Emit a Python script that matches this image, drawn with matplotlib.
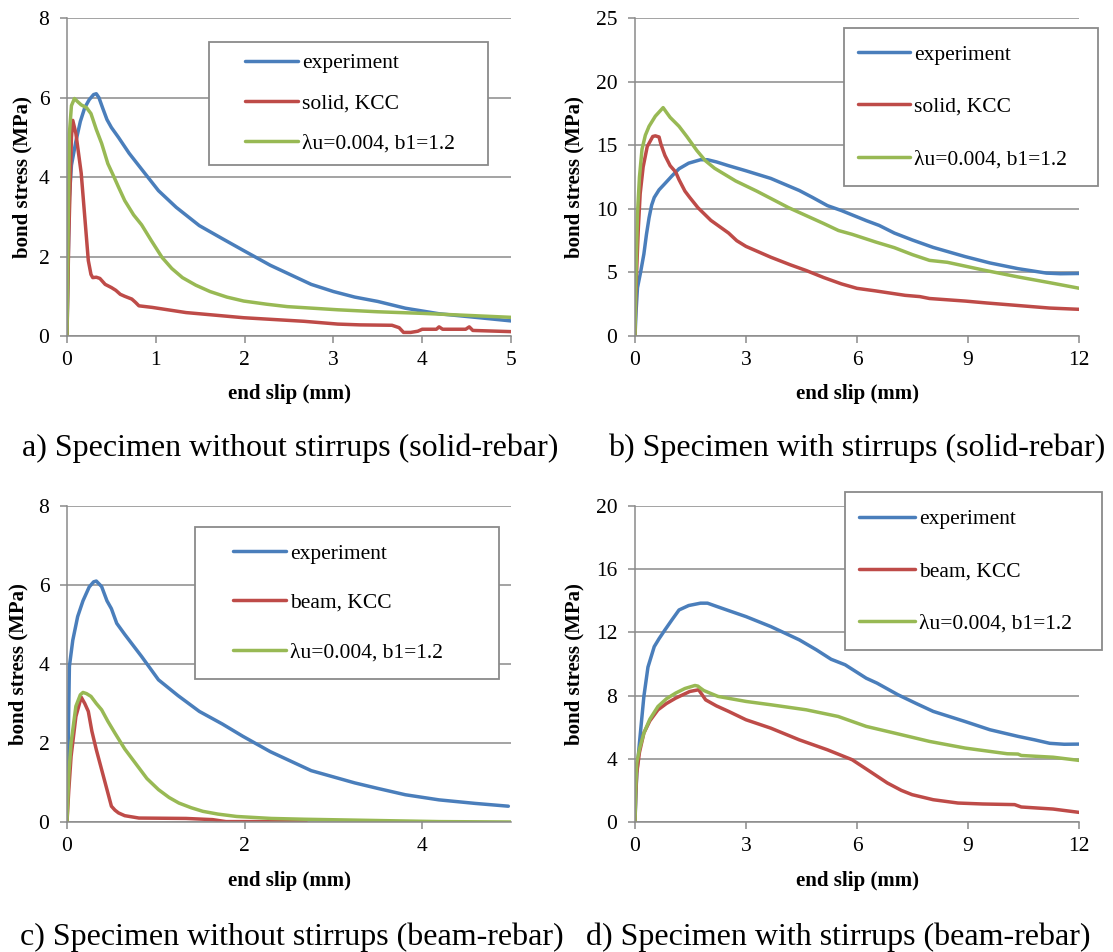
import matplotlib
matplotlib.use("Agg")
import matplotlib.pyplot as plt
from matplotlib.lines import Line2D
from matplotlib.legend_handler import HandlerLine2D

SERIF = ['Liberation Serif', 'DejaVu Serif']
plt.rcParams['font.family'] = SERIF

# ---------------- data: end slip (mm) vs bond stress (MPa) ----------------
# a) without stirrups, solid-rebar
a_exp_x = [0, 0.01, 0.027, 0.05, 0.1, 0.15, 0.2, 0.25, 0.3, 0.33, 0.36, 0.4, 0.45, 0.5, 0.58, 0.7, 0.84,
           1.03, 1.23, 1.49, 1.75, 1.99, 2.29, 2.75, 3.0, 3.24, 3.5, 3.81, 4.19, 4.6, 5.0]
a_exp_y = [0, 1.5, 3.5, 4.3, 4.9, 5.4, 5.75, 5.95, 6.08, 6.1, 6.0, 5.75, 5.45, 5.25, 5.0, 4.6, 4.2,
           3.66, 3.24, 2.78, 2.45, 2.15, 1.78, 1.3, 1.12, 0.98, 0.87, 0.70, 0.56, 0.47, 0.38]
a_kcc_x = [0, 0.02, 0.05, 0.065, 0.1, 0.16, 0.2, 0.24, 0.27, 0.29, 0.33, 0.37, 0.43, 0.5, 0.55, 0.6, 0.65,
           0.73, 0.77, 0.81, 0.96, 1.34, 1.99, 2.67, 3.05, 3.3, 3.66, 3.74, 3.79, 3.87, 3.95, 4.0, 4.16,
           4.19, 4.23, 4.49, 4.53, 4.57, 5.0]
a_kcc_y = [0, 2.5, 5.0, 5.43, 5.1, 4.1, 3.0, 1.9, 1.55, 1.47, 1.48, 1.45, 1.3, 1.22, 1.15, 1.05, 1.0,
           0.93, 0.85, 0.76, 0.72, 0.59, 0.46, 0.37, 0.30, 0.28, 0.27, 0.21, 0.09, 0.09, 0.12, 0.17, 0.17,
           0.23, 0.17, 0.17, 0.23, 0.14, 0.11]
a_mod_x = [0, 0.015, 0.027, 0.05, 0.084, 0.12, 0.16, 0.22, 0.27, 0.33, 0.39, 0.46, 0.52, 0.58, 0.65, 0.75,
           0.84, 0.95, 1.07, 1.18, 1.3, 1.45, 1.61, 1.8, 1.99, 2.25, 2.48, 3.05, 3.5, 4.0, 4.5, 5.0]
a_mod_y = [0, 3.0, 5.1, 5.8, 5.98, 5.9, 5.82, 5.75, 5.6, 5.2, 4.85, 4.34, 4.05, 3.75, 3.41, 3.05,
           2.8, 2.4, 1.98, 1.7, 1.47, 1.28, 1.12, 0.98, 0.88, 0.8, 0.74, 0.66, 0.61, 0.57, 0.52, 0.47]

# b) with stirrups, solid-rebar
b_exp_x = [0, 0.03, 0.067, 0.15, 0.24, 0.31, 0.38, 0.45, 0.52, 0.65, 0.81, 1.0, 1.19, 1.45, 1.77, 1.96,
           2.2, 2.53, 3.0, 3.67, 4.44, 4.8, 5.2, 5.58, 6.25, 6.6, 7.01, 7.5, 8.06, 8.92, 9.59, 10.35,
           11.12, 11.5, 12.0]
b_exp_y = [0, 2.0, 3.8, 5.0, 6.45, 8.0, 9.3, 10.3, 10.9, 11.5, 12.0, 12.6, 13.16, 13.6, 13.87, 13.87,
           13.7, 13.4, 13.0, 12.4, 11.45, 10.9, 10.26, 9.87, 9.08, 8.7, 8.1, 7.55, 6.97, 6.25, 5.75, 5.3,
           4.95, 4.9, 4.92]
b_kcc_x = [0, 0.02, 0.048, 0.09, 0.14, 0.22, 0.33, 0.48, 0.55, 0.65, 0.7, 0.76, 0.81, 0.95, 1.1, 1.19,
           1.35, 1.48, 1.7, 2.05, 2.53, 2.75, 3.0, 3.67, 4.2, 4.63, 5.1, 5.58, 6.0, 6.5, 7.3, 7.7, 7.96,
           8.92, 9.5, 10.35, 11.2, 12.0]
b_kcc_y = [0, 3.0, 5.4, 8.5, 11.2, 13.3, 14.9, 15.7, 15.75, 15.66, 15.1, 14.6, 14.2, 13.4, 12.9, 12.3,
           11.4, 10.9, 10.1, 9.1, 8.1, 7.5, 7.05, 6.2, 5.6, 5.15, 4.6, 4.1, 3.75, 3.55, 3.2, 3.1, 2.95,
           2.75, 2.6, 2.4, 2.2, 2.1]
b_mod_x = [0, 0.02, 0.067, 0.12, 0.19, 0.28, 0.38, 0.55, 0.76, 0.85, 0.95, 1.19, 1.4, 1.67, 1.9, 2.15,
           2.72, 3.29, 4.15, 5.1, 5.5, 5.87, 6.5, 7.01, 7.5, 7.96, 8.44, 9.4, 10.35, 11.2, 12.0]
b_mod_y = [0, 4.0, 9.6, 12.5, 14.7, 15.8, 16.5, 17.3, 17.97, 17.6, 17.2, 16.5, 15.7, 14.6, 13.8, 13.2,
           12.2, 11.4, 10.1, 8.85, 8.3, 8.0, 7.4, 6.95, 6.4, 5.95, 5.8, 5.2, 4.65, 4.2, 3.76]

# c) without stirrups, beam-rebar
c_exp_x = [0, 0.01, 0.027, 0.065, 0.12, 0.18, 0.25, 0.3, 0.33, 0.39, 0.45, 0.5, 0.56, 0.65, 0.84, 1.03,
           1.25, 1.49, 1.75, 1.98, 2.29, 2.75, 3.24, 3.5, 3.81, 4.19, 4.6, 4.97]
c_exp_y = [0, 1.5, 3.94, 4.6, 5.2, 5.6, 5.95, 6.08, 6.1, 5.96, 5.6, 5.4, 5.03, 4.75, 4.19, 3.6,
           3.2, 2.8, 2.48, 2.17, 1.78, 1.3, 0.99, 0.85, 0.69, 0.56, 0.47, 0.4]
c_kcc_x = [0, 0.02, 0.046, 0.1, 0.16, 0.2, 0.24, 0.28, 0.33, 0.43, 0.5, 0.54, 0.58, 0.65, 0.81, 1.34,
           1.64, 1.79, 2.69]
c_kcc_y = [0, 0.8, 1.66, 2.67, 3.16, 3.0, 2.8, 2.3, 1.83, 0.99, 0.4, 0.3, 0.23, 0.16, 0.1, 0.09,
           0.06, 0.01, 0.01]
c_mod_x = [0, 0.02, 0.046, 0.1, 0.15, 0.18, 0.22, 0.27, 0.33, 0.39, 0.46, 0.54, 0.65, 0.77, 0.9, 1.03,
           1.15, 1.26, 1.4, 1.53, 1.7, 1.91, 2.3, 2.67, 3.43, 4.19, 5.0]
c_mod_y = [0, 1.2, 2.0, 2.93, 3.22, 3.28, 3.25, 3.18, 3.0, 2.84, 2.55, 2.25, 1.85, 1.49, 1.1, 0.82,
           0.62, 0.48, 0.36, 0.27, 0.2, 0.14, 0.09, 0.07, 0.04, 0.01, 0.0]

# d) with stirrups, beam-rebar
d_exp_x = [0, 0.02, 0.048, 0.12, 0.24, 0.35, 0.52, 0.65, 0.81, 1.0, 1.19, 1.45, 1.77, 1.96, 2.2, 2.53,
           3.0, 3.67, 4.44, 4.9, 5.3, 5.68, 6.25, 6.54, 7.11, 7.6, 8.06, 8.92, 9.59, 10.35, 10.8, 11.21,
           11.6, 12.0]
d_exp_y = [0, 1.5, 3.1, 5.0, 7.95, 9.8, 11.1, 11.6, 12.16, 12.8, 13.42, 13.7, 13.85, 13.85, 13.65, 13.38,
           13.0, 12.37, 11.53, 10.9, 10.3, 9.95, 9.1, 8.79, 8.05, 7.5, 7.0, 6.36, 5.84, 5.42, 5.2, 4.98,
           4.92, 4.93]
d_kcc_x = [0, 0.02, 0.048, 0.12, 0.24, 0.4, 0.62, 0.85, 1.1, 1.48, 1.72, 1.8, 1.91, 2.2, 2.53, 3.0,
           3.67, 4.44, 5.2, 5.87, 6.35, 6.82, 7.2, 7.49, 8.06, 8.73, 9.4, 10.26, 10.44, 11.3, 12.0]
d_kcc_y = [0, 1.8, 3.1, 4.4, 5.63, 6.4, 7.1, 7.5, 7.84, 8.26, 8.37, 8.1, 7.73, 7.35, 7.0, 6.47,
           5.94, 5.2, 4.57, 3.94, 3.2, 2.47, 2.0, 1.73, 1.41, 1.2, 1.14, 1.1, 0.95, 0.82, 0.61]
d_mod_x = [0, 0.02, 0.048, 0.12, 0.24, 0.4, 0.62, 0.85, 1.1, 1.35, 1.62, 1.7, 1.77, 1.86, 2.24, 3.0,
           3.67, 4.63, 5.49, 6.25, 7.01, 7.96, 8.92, 10.06, 10.35, 10.44, 11.3, 12.0]
d_mod_y = [0, 2.2, 3.73, 4.6, 5.63, 6.5, 7.31, 7.8, 8.16, 8.45, 8.64, 8.6, 8.47, 8.32, 7.95, 7.63,
           7.42, 7.1, 6.68, 6.05, 5.63, 5.1, 4.68, 4.32, 4.3, 4.21, 4.1, 3.9]

series_names_solid = ["experiment", "solid, KCC", "\u03bbu=0.004, b1=1.2"]
series_names_beam = ["experiment", "beam, KCC", "\u03bbu=0.004, b1=1.2"]

captions = ["a) Specimen without stirrups (solid-rebar)",
            "b) Specimen with stirrups (solid-rebar)",
            "c) Specimen without stirrups (beam-rebar)",
            "d) Specimen with stirrups (beam-rebar)"]

# ---------------- styling ----------------
W, H = 1113, 952
C_EXP, C_KCC, C_MOD = "#4A7EBB", "#BE4B48", "#98B954"
GRAY = "#8A8A8A"
LW = 2.5
TICK_FS = 15.5
LABEL_FS = 15
FS_PX = TICK_FS * 100 / 72

fig = plt.figure(figsize=(W / 100, H / 100), dpi=100)


def px_axes(left, top, right, bottom):
    return fig.add_axes([left / W, 1 - bottom / H, (right - left) / W, (bottom - top) / H])


def style_axes(ax, xmax, xticks, ymax, yticks):
    ax.set_xlim(0, xmax)
    ax.set_ylim(0, ymax)
    ax.set_xticks(xticks)
    ax.set_yticks(yticks)
    ax.yaxis.grid(True, color=GRAY, linewidth=1.1)
    ax.xaxis.grid(False)
    ax.set_axisbelow(True)
    for s in ("top", "right"):
        ax.spines[s].set_visible(False)
    for s in ("left", "bottom"):
        ax.spines[s].set_color(GRAY)
        ax.spines[s].set_linewidth(1.1)
    ax.tick_params(axis="both", direction="out", length=4.7, width=1.1, color=GRAY,
                   labelsize=TICK_FS, labelfontfamily=SERIF)
    ax.tick_params(axis="y", pad=8)
    ax.tick_params(axis="x", pad=6)
    ax.set_xlabel("end slip (mm)", fontsize=LABEL_FS, fontweight="bold", family=SERIF)
    ax.set_ylabel("bond stress (MPa)", fontsize=LABEL_FS, fontweight="bold", family=SERIF)


def add_legend(ax, names, box, borderpad, labelspacing, handle_span):
    # box = (left, top, right, bottom) and handle_span = (start, end), all in figure pixels
    left, top, right, bottom = box
    h0, h1 = handle_span
    xpad = (h0 - left) / FS_PX - borderpad
    handlelength = (h1 - left) / FS_PX - borderpad
    leg = ax.legend(ax.get_lines(), names, loc="upper left",
                    bbox_to_anchor=(left / W, 1 - bottom / H, (right - left) / W, (bottom - top) / H),
                    bbox_transform=fig.transFigure, mode="expand", borderaxespad=0,
                    borderpad=borderpad, labelspacing=labelspacing, handlelength=handlelength,
                    handletextpad=0.18, prop={"family": SERIF, "size": TICK_FS},
                    fancybox=False, framealpha=1, edgecolor=GRAY,
                    handler_map={Line2D: HandlerLine2D(xpad=xpad)})
    leg.get_frame().set_linewidth(1.3)
    return leg


panels = [
    dict(box=(67, 18.3, 511, 336), xmax=5, xticks=[0, 1, 2, 3, 4, 5], ymax=8, yticks=[0, 2, 4, 6, 8],
         data=[(a_exp_x, a_exp_y), (a_kcc_x, a_kcc_y), (a_mod_x, a_mod_y)], names=series_names_solid,
         leg=((209, 42, 488, 161), 0.52, 0.94, (245, 298)), ylab=-0.078, xlab=-0.15),
    dict(box=(635, 18.3, 1079, 336), xmax=12, xticks=[0, 3, 6, 9, 12], ymax=25, yticks=[0, 5, 10, 15, 20, 25],
         data=[(b_exp_x, b_exp_y), (b_kcc_x, b_kcc_y), (b_mod_x, b_mod_y)], names=series_names_solid,
         leg=((844, 28, 1098, 183), 0.77, 1.5, (858, 910)), ylab=-0.113, xlab=-0.15),
    dict(box=(67, 506, 511, 822), xmax=5, xticks=[0, 2, 4], ymax=8, yticks=[0, 2, 4, 6, 8],
         data=[(c_exp_x, c_exp_y), (c_kcc_x, c_kcc_y), (c_mod_x, c_mod_y)], names=series_names_beam,
         leg=((195, 527, 499, 675), 0.77, 1.36, (233, 286)), ylab=-0.087, xlab=-0.155),
    dict(box=(635, 506, 1079, 822), xmax=12, xticks=[0, 3, 6, 9, 12], ymax=20, yticks=[0, 4, 8, 12, 16, 20],
         data=[(d_exp_x, d_exp_y), (d_kcc_x, d_kcc_y), (d_mod_x, d_mod_y)], names=series_names_beam,
         leg=((845, 492, 1102, 646), 0.8, 1.48, (859, 915)), ylab=-0.113, xlab=-0.155),
]

for p in panels:
    ax = px_axes(*p["box"])
    for (xs, ys), col in zip(p["data"], (C_EXP, C_KCC, C_MOD)):
        ax.plot(xs, ys, color=col, linewidth=LW, solid_joinstyle="round", solid_capstyle="round")
    style_axes(ax, p["xmax"], p["xticks"], p["ymax"], p["yticks"])
    ax.yaxis.set_label_coords(p["ylab"], 0.5)
    ax.xaxis.set_label_coords(0.5, p["xlab"])
    add_legend(ax, p["names"], *p["leg"])

# panel captions (centre x, centre y in figure pixels)
CAP_FS = 23
caption_pos = [(290, 448), (857, 448), (292, 937), (838, 937)]
for text, (cx, cy) in zip(captions, caption_pos):
    fig.text(cx / W, 1 - cy / H, text, ha="center", va="center", fontsize=CAP_FS, family=SERIF)

fig.savefig("out.png", dpi=100, facecolor="white")
